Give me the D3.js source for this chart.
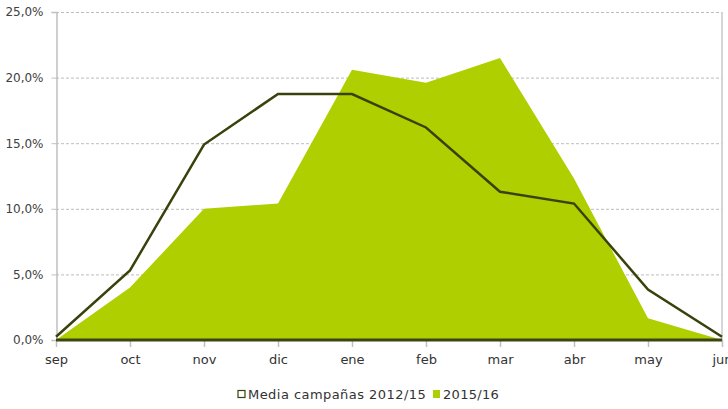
<!DOCTYPE html>
<html><head><meta charset="utf-8">
<script src="https://cdn.jsdelivr.net/npm/d3@7"></script>
<style>body{margin:0;background:#fff}svg{display:block}</style>
</head><body>
<svg id="c" width="728" height="409"></svg>
<script>
const months = ["sep","oct","nov","dic","ene","feb","mar","abr","may","jun"];
const media = [0.25, 5.3, 14.9, 18.75, 18.75, 16.2, 11.3, 10.4, 3.85, 0.25];
const season = [0, 4.0, 10.0, 10.4, 20.6, 19.6, 21.5, 12.3, 1.65, 0];
const yTicks = [0, 5, 10, 15, 20, 25];
const seriesNames = ["Media campañas 2012/15", "2015/16"];

const svg = d3.select("#c");
const font = "'DejaVu Sans', sans-serif";
const x = d3.scalePoint().domain(months).range([56, 722]);
const y = d3.scaleLinear().domain([0, 25]).range([340, 12]);
const fmt = v => d3.format(".1f")(v).replace(".", ",") + "%";

// gridlines
svg.append("g").selectAll("line").data(yTicks.filter(d => d > 0)).join("line")
  .attr("x1", 56).attr("x2", 722).attr("y1", d => y(d) + 0.5).attr("y2", d => y(d) + 0.5)
  .attr("stroke", "#bdbdbd").attr("stroke-dasharray", "3,2");

// y axis
const ya = svg.append("g").attr("transform", "translate(56.5,0)")
  .call(d3.axisLeft(y).tickValues(yTicks).tickFormat(fmt).tickSize(5).tickPadding(8));
ya.select(".domain").attr("stroke", "#c0c0c0").attr("stroke-width", 1.5);
ya.selectAll(".tick line").attr("stroke", "#c0c0c0");
ya.selectAll("text").attr("font-family", font).attr("font-size", 12).attr("fill", "#404040");

// right border
svg.append("line").attr("x1", 722).attr("x2", 722).attr("y1", 12).attr("y2", 340)
  .attr("stroke", "#c8c8c8").attr("stroke-width", 1.5);

// x axis
const xa = svg.append("g").attr("transform", "translate(0,340)")
  .call(d3.axisBottom(x).tickSize(7).tickPadding(8));
xa.select(".domain").remove();
xa.selectAll(".tick line").attr("stroke", "#c0c0c0").attr("stroke-width", 1.5);
xa.selectAll("text").attr("font-family", font).attr("font-size", 13).attr("fill", "#333");

// area
svg.append("path").datum(season)
  .attr("d", d3.area().x((d, i) => x(months[i])).y0(y(0)).y1(d => y(d)))
  .attr("fill", "#b0cf00");

// baseline
svg.append("line").attr("x1", 56).attr("x2", 722).attr("y1", y(0)).attr("y2", y(0))
  .attr("stroke", "#3a4710").attr("stroke-width", 3);

// line
svg.append("path").datum(media)
  .attr("d", d3.line().x((d, i) => x(months[i])).y(d => y(d)))
  .attr("fill", "none").attr("stroke", "#38430c").attr("stroke-width", 2.5)
  .attr("stroke-linejoin", "miter");

// legend
const lg = svg.append("g");
lg.append("rect").attr("x", 238).attr("y", 390.5).attr("width", 7).attr("height", 7)
  .attr("fill", "#fff").attr("stroke", "#38430c").attr("stroke-width", 1.2);
lg.append("text").attr("x", 248).attr("y", 399).text(seriesNames[0])
  .attr("font-family", font).attr("font-size", 13).attr("letter-spacing", 0.45).attr("fill", "#333");
lg.append("rect").attr("x", 433).attr("y", 390).attr("width", 7).attr("height", 8)
  .attr("fill", "#b0cf00");
lg.append("text").attr("x", 443).attr("y", 399).text(seriesNames[1])
  .attr("font-family", font).attr("font-size", 13).attr("letter-spacing", 0.3).attr("fill", "#333");
</script>
</body></html>
